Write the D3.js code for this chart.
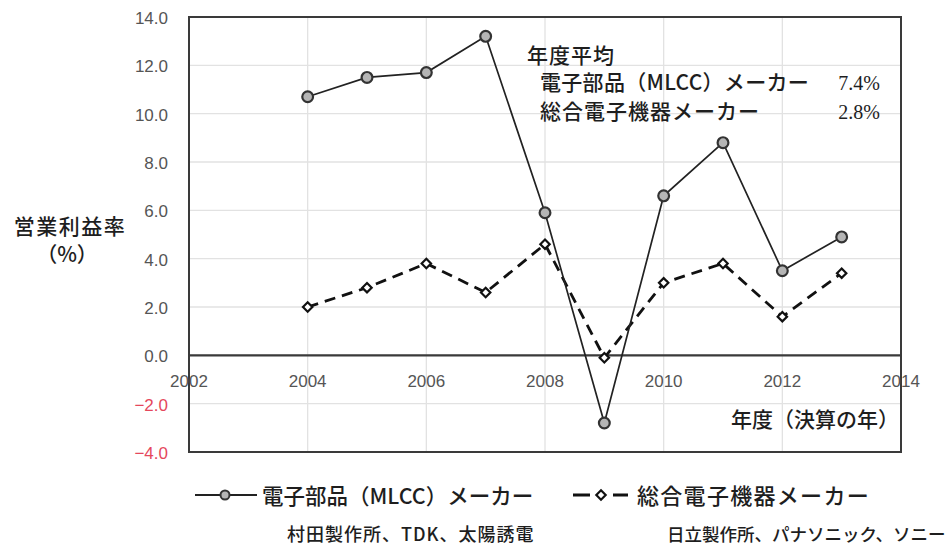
<!DOCTYPE html>
<html><head><meta charset="utf-8">
<script src="https://cdn.jsdelivr.net/npm/d3@7"></script>
<style>
html,body{margin:0;padding:0;background:#fff;overflow:hidden}
text{font-family:"Noto Sans CJK JP","Noto Sans",sans-serif;font-weight:500}
</style></head>
<body><svg id="c" width="952" height="547"></svg>
<script>
// Operating margin (%) by fiscal year
const years = [2004, 2005, 2006, 2007, 2008, 2009, 2010, 2011, 2012, 2013];
const mlccMakers = [10.7, 11.5, 11.7, 13.2, 5.9, -2.8, 6.6, 8.8, 3.5, 4.9];
const generalMakers = [2.0, 2.8, 3.8, 2.6, 4.6, -0.1, 3.0, 3.8, 1.6, 3.4];
const xTicks = [2002, 2004, 2006, 2008, 2010, 2012, 2014];
const yTicks = [14, 12, 10, 8, 6, 4, 2, 0, -2, -4];
const seriesNames = ["電子部品（MLCC）メーカー", "総合電子機器メーカー"];
const averages = ["7.4%", "2.8%"];
const companies = ["村田製作所、TDK、太陽誘電", "日立製作所、パナソニック、ソニー"];

const svg = d3.select("#c");
const L = 189, R = 901, T = 17, B = 452;
const x = d3.scaleLinear().domain([2002, 2014]).range([L, R]);
const y = d3.scaleLinear().domain([-4, 14]).range([B, T]);
const ink = "#1e1e1e";

// grid
const g = svg.append("g");
g.selectAll(".hg").data(yTicks).join("line")
  .attr("x1", L).attr("x2", R).attr("y1", d => y(d)).attr("y2", d => y(d))
  .attr("stroke", "#e2e2e2").attr("stroke-width", 1.3);
g.selectAll(".vg").data(xTicks).join("line")
  .attr("y1", T).attr("y2", B).attr("x1", d => x(d)).attr("x2", d => x(d))
  .attr("stroke", "#e2e2e2").attr("stroke-width", 1.3);

// frame and zero line
svg.append("rect").attr("x", L).attr("y", T).attr("width", R - L).attr("height", B - T)
  .attr("fill", "none").attr("stroke", "#3a3a3a").attr("stroke-width", 2);
svg.append("line").attr("x1", L).attr("x2", R).attr("y1", y(0)).attr("y2", y(0))
  .attr("stroke", "#3a3a3a").attr("stroke-width", 2.2);

// y tick labels
svg.append("g").selectAll("text").data(yTicks).join("text")
  .attr("x", 168).attr("y", d => y(d) + 1).attr("dy", "0.35em").attr("text-anchor", "end")
  .attr("fill", d => d < 0 ? "#e5475c" : "#555")
  .style("font-family", "'Liberation Sans',sans-serif").style("font-size", "17px")
  .style("font-weight", "400")
  .text(d => d3.format(".1f")(d));

// x tick labels
svg.append("g").selectAll("text").data(xTicks).join("text")
  .attr("x", d => x(d)).attr("y", y(0) + 32).attr("text-anchor", "middle")
  .attr("fill", "#555")
  .style("font-family", "'Liberation Sans',sans-serif").style("font-size", "17px")
  .style("font-weight", "400")
  .text(d => d);

// axis titles
svg.append("text").attr("x", 70).attr("y", 234).attr("text-anchor", "middle")
  .attr("fill", ink).style("font-size", "21px").style("letter-spacing", "1.5px").text("営業利益率");
svg.append("text").attr("x", 67).attr("y", 262).attr("text-anchor", "middle")
  .attr("fill", ink).style("font-size", "21px").text("（%）");
svg.append("text").attr("x", 731).attr("y", 427)
  .attr("fill", ink).style("font-size", "21px").text("年度（決算の年）");

// series lines
const line = d3.line().x((d, i) => x(years[i])).y(d => y(d));
svg.append("path").datum(generalMakers).attr("d", line)
  .attr("fill", "none").attr("stroke", "#111").attr("stroke-width", 2.8)
  .attr("stroke-dasharray", "11,7");
svg.append("path").datum(mlccMakers).attr("d", line)
  .attr("fill", "none").attr("stroke", "#222").attr("stroke-width", 1.7);

// markers
const diamond = d3.symbol().type(d3.symbolDiamond2).size(56);
svg.append("g").selectAll("path").data(generalMakers).join("path")
  .attr("d", diamond)
  .attr("transform", (d, i) => `translate(${x(years[i])},${y(d)})`)
  .attr("fill", "#fff").attr("stroke", "#111").attr("stroke-width", 2.2);
svg.append("g").selectAll("circle").data(mlccMakers).join("circle")
  .attr("cx", (d, i) => x(years[i])).attr("cy", d => y(d)).attr("r", 5.4)
  .attr("fill", "#b5b5b5").attr("stroke", "#333").attr("stroke-width", 2.2);

// average annotation
svg.append("text").attr("x", 527).attr("y", 63).attr("fill", ink)
  .style("font-size", "21px").style("letter-spacing", "1px").text("年度平均");
const avgRows = [0, 1];
svg.append("g").selectAll("text").data(avgRows).join("text")
  .attr("x", 540).attr("y", d => 90 + d * 29).attr("fill", ink)
  .style("font-size", "21px").style("letter-spacing", d => d === 0 ? "0.3px" : "1px")
  .text(d => seriesNames[d]);
svg.append("g").selectAll("text").data(avgRows).join("text")
  .attr("x", 880).attr("y", d => 90 + d * 29).attr("text-anchor", "end").attr("fill", ink)
  .style("font-family", "'Liberation Serif',serif").style("font-size", "20px")
  .style("font-weight", "400")
  .text(d => averages[d]);

// legend
const lg = svg.append("g");
lg.append("line").attr("x1", 195).attr("x2", 257).attr("y1", 495).attr("y2", 495)
  .attr("stroke", "#222").attr("stroke-width", 2);
lg.append("circle").attr("cx", 225).attr("cy", 495).attr("r", 4.5)
  .attr("fill", "#b5b5b5").attr("stroke", "#333").attr("stroke-width", 2);
lg.append("text").attr("x", 262).attr("y", 504).attr("fill", ink)
  .style("font-size", "21.5px").text(seriesNames[0]);
lg.append("line").attr("x1", 573).attr("x2", 628).attr("y1", 495).attr("y2", 495)
  .attr("stroke", "#111").attr("stroke-width", 2.8).attr("stroke-dasharray", "17,23");
lg.append("path").attr("d", diamond).attr("transform", "translate(601,495)")
  .attr("fill", "#fff").attr("stroke", "#111").attr("stroke-width", 2.2);
lg.append("text").attr("x", 637).attr("y", 504).attr("fill", ink)
  .style("font-size", "22px").style("letter-spacing", "1.3px").text(seriesNames[1]);

// company lists
svg.append("text").attr("x", 287).attr("y", 541).attr("fill", ink)
  .style("font-size", "18px").style("letter-spacing", "1px").text(companies[0]);
svg.append("text").attr("x", 667).attr("y", 541).attr("fill", ink)
  .style("font-size", "17.5px").text(companies[1]);
</script></body></html>
